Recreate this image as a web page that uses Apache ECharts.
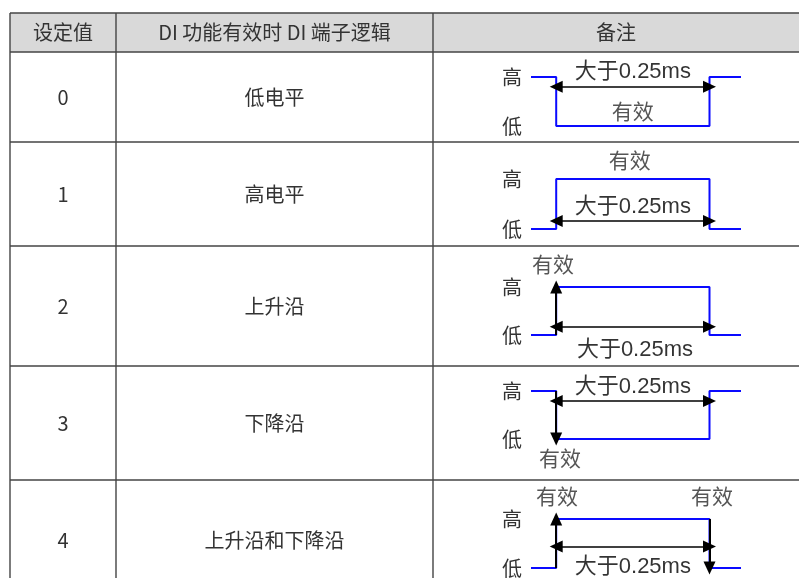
<!DOCTYPE html>
<html><head><meta charset="utf-8">
<script src="https://cdn.jsdelivr.net/npm/echarts@6/dist/echarts.min.js"></script>
<style>html,body{margin:0;padding:0;background:#fff}#c{width:799px;height:578px}</style>
</head><body><div id="c"></div>
<script>
// ---- data ----
const headers = ['设定值', 'DI 功能有效时 DI 端子逻辑', '备注'];
const settingValues = ['0', '1', '2', '3', '4'];
const logicNames = ['低电平', '高电平', '上升沿', '下降沿', '上升沿和下降沿'];
const levelNames = ['低', '高'];
const waveTimes = [0, 1.2, 1.2, 8.5, 8.5, 10];
const waveLevels = [
  [1, 1, 0, 0, 1, 1],
  [0, 0, 1, 1, 0, 0],
  [0, 0, 1, 1, 0, 0],
  [1, 1, 0, 0, 1, 1],
  [0, 0, 1, 1, 0, 0]
];
const spanStart = 1.2, spanEnd = 8.5;
const spanLevels = [0.8, 0.16, 0.17, 0.79, 0.44];
const spanText = '大于0.25ms';
const spanTextPos = [[4.85, 1.1], [4.85, 0.44], [4.95, -0.31], [4.85, 1.08], [4.85, 0.02]];
const validText = '有效';
const validTextPos = [
  [[4.85, 0.27]],
  [[4.7, 1.34]],
  [[1.05, 1.44]],
  [[1.38, -0.44]],
  [[1.24, 1.42], [8.62, 1.42]]
];
// edge arrows: [time, fromLevel, toLevel]
const edgeArrows = [
  [],
  [],
  [[1.2, 0, 1]],
  [[1.2, 1, 0]],
  [[1.2, 0, 1], [8.5, 1, 0]]
];

// ---- layout ----
const colX = [10, 116, 433, 799];
const rowY = [13, 52, 142, 246, 366, 480, 600];
const waveTop = [77, 179, 287, 391, 519];
const waveBottom = [126, 229, 335, 439, 569];
const waveLeft = 531, waveWidth = 210;
const textColor = '#333';
const lineColor = '#444';
const cjk = '"Noto Sans CJK SC", "Noto Sans", sans-serif';

const chart = echarts.init(document.getElementById('c'), null, {renderer: 'canvas'});

const graphics = [];
graphics.push({type: 'rect', shape: {x: colX[0], y: rowY[0], width: colX[3] - colX[0], height: rowY[1] - rowY[0]}, style: {fill: '#d9d9d9'}, z: 0});
for (let i = 0; i < rowY.length - 1; i++) {
  graphics.push({type: 'line', shape: {x1: colX[0], y1: rowY[i], x2: colX[3], y2: rowY[i]}, style: {stroke: lineColor, lineWidth: 1.4}, z: 2});
}
for (let j = 0; j < 3; j++) {
  graphics.push({type: 'line', shape: {x1: colX[j], y1: rowY[0], x2: colX[j], y2: 600}, style: {stroke: lineColor, lineWidth: 1.4}, z: 2});
}
headers.forEach((h, j) => {
  graphics.push({type: 'text', style: {text: h, x: (colX[j] + colX[j + 1]) / 2, y: (rowY[0] + rowY[1]) / 2, align: 'center', verticalAlign: 'middle', font: '20px ' + cjk, fill: textColor}, z: 3});
});
settingValues.forEach((v, i) => {
  const cy = (rowY[i + 1] + rowY[i + 2]) / 2;
  graphics.push({type: 'text', style: {text: v, x: (colX[0] + colX[1]) / 2, y: cy, align: 'center', verticalAlign: 'middle', font: '20px ' + cjk, fill: textColor}, z: 3});
  graphics.push({type: 'text', style: {text: logicNames[i], x: (colX[1] + colX[2]) / 2, y: cy, align: 'center', verticalAlign: 'middle', font: '20px ' + cjk, fill: textColor}, z: 3});
});

const grids = [], xAxes = [], yAxes = [], series = [];
settingValues.forEach((v, i) => {
  grids.push({left: waveLeft, width: waveWidth, top: waveTop[i], height: waveBottom[i] - waveTop[i], containLabel: false});
  xAxes.push({type: 'value', gridIndex: i, min: 0, max: 10, show: false});
  yAxes.push({type: 'value', gridIndex: i, min: 0, max: 1, interval: 1,
    axisLine: {show: false}, axisTick: {show: false}, splitLine: {show: false},
    axisLabel: {margin: 9, color: textColor, fontSize: 20, fontFamily: cjk, formatter: val => levelNames[val]}});
  series.push({
    type: 'line', xAxisIndex: i, yAxisIndex: i, clip: false, symbol: 'none',
    data: waveTimes.map((t, k) => [t, waveLevels[i][k]]),
    lineStyle: {color: '#0a0aff', width: 2},
    z: 3,
    markLine: {
      silent: true, animation: false, symbol: ['triangle', 'triangle'], symbolSize: [12, 13],
      lineStyle: {color: '#000', width: 1.5, type: 'solid'},
      label: {show: false},
      data: [[{coord: [spanStart, spanLevels[i]]}, {coord: [spanEnd, spanLevels[i]]}]]
    }
  });
  if (edgeArrows[i].length) {
    series.push({
      type: 'line', xAxisIndex: i, yAxisIndex: i, data: [], z: 4,
      markLine: {
        silent: true, animation: false, symbol: ['none', 'triangle'], symbolSize: [12, 13],
        lineStyle: {color: '#000', width: 2, type: 'solid'},
        label: {show: false},
        data: edgeArrows[i].map(a => [{coord: [a[0], a[1]]}, {coord: [a[0], a[2]]}])
      }
    });
  }
  const labels = [{value: spanTextPos[i], name: spanText, font: 22, color: '#000'}]
    .concat(validTextPos[i].map(p => ({value: p, name: validText, font: 21, color: '#2a2a2a'})));
  series.push({
    type: 'scatter', xAxisIndex: i, yAxisIndex: i, clip: false, symbolSize: 1,
    itemStyle: {color: 'rgba(0,0,0,0)'},
    data: labels.map(l => ({value: l.value, name: l.name, label: {fontSize: l.font, color: l.color}})),
    label: {show: true, position: 'inside', formatter: p => p.name,
      fontFamily: '"Liberation Sans", "Noto Sans CJK SC", sans-serif'},
    z: 5
  });
});

chart.setOption({
  animation: false,
  grid: grids, xAxis: xAxes, yAxis: yAxes, series: series,
  graphic: graphics
});
</script></body></html>
